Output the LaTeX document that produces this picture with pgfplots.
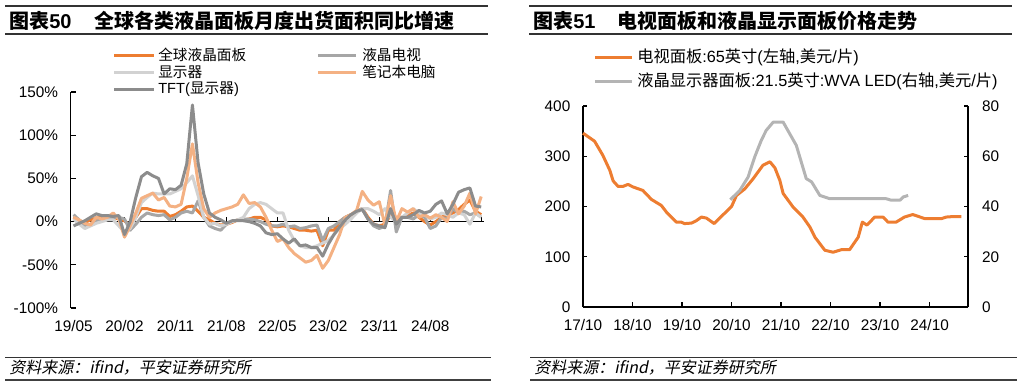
\documentclass[border=0pt]{standalone}
\usepackage{fontspec}
\usepackage{pgfplots}
\pgfplotsset{compat=1.18}
\usepackage{pgfplotstable}
\setmainfont{Liberation Sans}
\newfontfamily\cjk{Noto Sans CJK SC}
\newfontfamily\cjkit[FakeSlant=0.2]{Noto Sans CJK SC}
\definecolor{cA}{HTML}{ED7D31}
\definecolor{cB}{HTML}{A6A6A6}
\definecolor{cC}{HTML}{D2D2D2}
\definecolor{cD}{HTML}{F4B183}
\definecolor{cE}{HTML}{8C8C8C}
\definecolor{cG}{HTML}{B4B4B4}
\definecolor{rule}{HTML}{333333}

\pgfplotstableread{
i a b c d e
0 5 8 3 5 -5
1 1 2 -3 2 -2
2 -1 -5 -8 -2 1
3 2 -3 -5 -4 5
4 4 0 -2 5 9
5 5 3 0 3 7
6 4 5 2 5 7
7 5 5 2 10 6
8 3 5 -5 3 7
9 1 3 -12 -18 -15
10 -5 -10 -8 -5 0
11 5 -3 5 10 28
12 15 5 22 27 52
13 15 10 28 30 57
14 13 8 33 33 53
15 12 7 32 25 50
16 12 8 32 28 32
17 6 2 32 18 38
18 8 5 35 17 37
19 12 10 38 20 42
20 17 12 45 50 67
21 18 10 53 90 135
22 12 24 30 45 68
23 5 5 5 15 32
24 2 -5 -3 5 10
25 -2 -8 -2 10 5
26 -4 -10 -5 13 2
27 -3 -3 -3 15 -2
28 -1 0 0 17 1
29 2 2 2 20 1
30 2 3 5 31 1
31 3 3 15 21 0
32 5 2 20 22 -2
33 5 0 22 17 -5
34 2 -3 20 5 -13
35 -5 -5 15 -10 -15
36 -6 -5 10 -23 -14
37 -5 -3 10 -20 -20
38 -6 -6 -10 -30 -25
39 -8 -5 -22 -37 -20
40 -10 -8 -28 -42 -28
41 -10 -7 -30 -47 -27
42 -11 -5 -30 -45 -30
43 -10 -4 -28 -39 -30
44 -28 -22 -25 -54 -40
45 -10 -8 -22 -45 -26
46 -10 -5 -15 -30 -15
47 0 0 -8 -15 -6
48 5 5 -3 5 2
49 8 8 3 8 8
50 12 12 10 13 12
51 15 15 15 35 14
52 5 3 15 25 3
53 -3 -5 12 19 -3
54 -5 -8 8 23 -5
55 -3 -5 15 -4 -7
56 8 36 5 30 15
57 5 -12 0 0 -3
58 5 5 5 15 5
59 7 5 10 11 5
60 10 3 15 15 8
61 5 8 10 5 13
62 0 5 8 8 10
63 -4 -8 3 4 12
64 0 -5 5 8 20
65 5 5 10 5 24
66 8 3 8 0 9
67 10 15 5 23 20
68 14 10 10 9 34
69 20 12 8 18 37
70 25 8 -3 33 39
71 12 10 10 9 18
72 8 5 5 29 17
}\lcd

\begin{document}
\begin{tikzpicture}
\begin{scope}[x=0.75pt,y=-0.75pt]
\path[use as bounding box] (0,0) rectangle (1017,386);
% rules
\draw[rule, line width=0.9pt] (5,6) -- (488,6);
\draw[rule, line width=0.9pt] (5,34) -- (488,34);
\draw[rule, line width=0.9pt] (529,6) -- (1012,6);
\draw[rule, line width=0.9pt] (529,34) -- (1012,34);
\draw[rule, line width=0.9pt] (5,357.5) -- (491,357.5);
\draw[rule, line width=0.9pt] (530,357.5) -- (1017,357.5);
\draw[black!75, line width=2pt] (5,380) -- (491,380);
\draw[black!75, line width=2pt] (530,380) -- (1017,380);
% titles
\node[anchor=west, inner sep=0] at (9,21) {\fontsize{15}{18}\selectfont\bfseries{\cjk 图表}50};
\node[anchor=west, inner sep=0] at (94,21) {\fontsize{15}{18}\selectfont\cjk\bfseries 全球各类液晶面板月度出货面积同比增速};
\node[anchor=west, inner sep=0] at (533,21) {\fontsize{15}{18}\selectfont\bfseries{\cjk 图表}51};
\node[anchor=west, inner sep=0] at (617,21) {\fontsize{15}{18}\selectfont\cjk\bfseries 电视面板和液晶显示面板价格走势};
% sources
\node[anchor=west, inner sep=0] at (9,368) {\fontsize{12}{13}\selectfont\cjkit 资料来源：ifind，平安证券研究所};
\node[anchor=west, inner sep=0] at (534,368) {\fontsize{12}{13}\selectfont\cjkit 资料来源：ifind，平安证券研究所};
% left legend
\draw[cA, line width=2.25pt] (114,55) -- (154,55);
\node[anchor=west, inner sep=0] at (158,55) {\fontsize{11}{13}\selectfont\cjk 全球液晶面板};
\draw[cC, line width=2.25pt] (114,72) -- (154,72);
\node[anchor=west, inner sep=0] at (158,72) {\fontsize{11}{13}\selectfont\cjk 显示器};
\draw[cE, line width=2.25pt] (114,89) -- (154,89);
\node[anchor=west, inner sep=0] at (158,89) {\fontsize{11}{13}\selectfont TFT({\cjk 显示器})};
\draw[cB, line width=2.25pt] (318,55) -- (356,55);
\node[anchor=west, inner sep=0] at (362,55) {\fontsize{11}{13}\selectfont\cjk 液晶电视};
\draw[cD, line width=2.25pt] (318,72) -- (356,72);
\node[anchor=west, inner sep=0] at (362,72) {\fontsize{11}{13}\selectfont\cjk 笔记本电脑};
% right legend
\draw[cA, line width=2.25pt] (595,57) -- (632,57);
\node[anchor=west, inner sep=0] at (637,57) {\fontsize{12.2}{14}\selectfont{\cjk 电视面板}:65{\cjk 英寸}({\cjk 左轴},{\cjk 美元}/{\cjk 片})};
\draw[cG, line width=2.25pt] (595,81) -- (632,81);
\node[anchor=west, inner sep=0] at (637,81) {\fontsize{12.2}{14}\selectfont{\cjk 液晶显示器面板}:21.5{\cjk 英寸}:WVA LED({\cjk 右轴},{\cjk 美元}/{\cjk 片})};
\end{scope}

% ---------- left chart ----------
\begin{axis}[at={(53.025pt,-231pt)}, anchor=south west, scale only axis,
  width=310pt, height=162pt, xmin=-0.5, xmax=72.5, ymin=-100, ymax=150,
  axis line style={draw=none}, tick style={draw=none}, clip=false,
  xtick={0,9,...,63}, xticklabels={19/05,20/02,20/11,21/08,22/05,23/02,23/11,24/08},
  ytick={-100,-50,0,50,100,150}, yticklabels={-100\%,-50\%,0\%,50\%,100\%,150\%},
  ticklabel style={font=\fontsize{11.5}{13}\selectfont},
  yticklabel style={xshift=-6pt}, xticklabel style={yshift=-6pt},
  every axis plot/.append style={line width=2.25pt, line join=round, mark=none}]
\draw[line width=1pt] (axis cs:-0.5,-100) -- (axis cs:-0.5,150);
\pgfplotsinvokeforeach{-100,-50,0,50,100,150}{\draw[line width=1pt] (axis cs:-0.5,#1) -- (axis cs:0.4,#1);}
\draw[line width=1pt] (axis cs:-0.5,0) -- (axis cs:72.5,0);
\pgfplotsinvokeforeach{9,18,27,36,45,54,63,72}{\draw[line width=1pt] (axis cs:#1,0) -- (axis cs:#1,5);}
\addplot[cA] table[x=i,y=a]{\lcd};
\addplot[cB] table[x=i,y=b]{\lcd};
\addplot[cC] table[x=i,y=c]{\lcd};
\addplot[cD] table[x=i,y=d]{\lcd};
\addplot[cE] table[x=i,y=e]{\lcd};
\end{axis}

% ---------- right chart ----------
\begin{axis}[at={(437.25pt,-230.25pt)}, anchor=south west, scale only axis,
  width=288.75pt, height=150.75pt, xmin=0, xmax=93.3, ymin=0, ymax=400,
  axis line style={draw=none}, tick style={draw=none}, clip=false,
  xtick={0,12,...,84}, xticklabels={17/10,18/10,19/10,20/10,21/10,22/10,23/10,24/10},
  ytick={0,100,200,300,400}, yticklabels={0,100,200,300,400},
  ticklabel style={font=\fontsize{11.5}{13}\selectfont},
  yticklabel style={xshift=-6pt}, xticklabel style={yshift=-6pt},
  every axis plot/.append style={line width=2.25pt, line join=round, mark=none}]
\draw[line width=1pt] (axis cs:0,0) -- (axis cs:0,400);
\draw[line width=1pt] (axis cs:0,0) -- (axis cs:93.3,0);
\draw[line width=1pt] (axis cs:93.3,0) -- (axis cs:93.3,400);
\pgfplotsinvokeforeach{0,100,200,300,400}{\draw[line width=1pt] (axis cs:0,#1) -- (axis cs:1,#1);
  \draw[line width=1pt] (axis cs:93.3,#1) -- (axis cs:92.3,#1);}
\pgfplotsinvokeforeach{12,24,36,48,60,72,84}{\draw[line width=1pt] (axis cs:#1,0) -- (axis cs:#1,10);}
\addplot[cA] coordinates {
(0,346) (2.8,330) (4.8,302) (6.5,272) (7.3,251) (8.5,240) (9.7,240) (10.9,244)
(12.1,239) (14.5,232) (16.6,214) (19,202) (20.2,189) (22.6,169) (23.8,169) (24.6,166)
(26.3,167) (27.5,172) (28.7,179) (29.9,177) (31.8,166) (34,184) (36,200) (37.2,222)
(39.2,235) (41.2,255) (43.6,282) (45.3,289) (46.5,277) (47.7,252) (48.5,226) (50.9,199)
(53.3,179) (55,159) (56.2,139) (58.6,113) (60.6,109) (62.6,114) (64.6,114) (66.7,139)
(67.7,169) (68.8,163) (70.7,179) (72.7,179) (73.9,169) (75.9,169) (77.9,179) (79.9,184)
(82.8,176) (86.9,176) (88,179) (89.7,180) (91.7,180)};
\end{axis}
\begin{axis}[at={(437.25pt,-230.25pt)}, anchor=south west, scale only axis,
  width=288.75pt, height=150.75pt, xmin=0, xmax=93.3, ymin=0, ymax=80,
  axis line style={draw=none}, tick style={draw=none}, clip=false,
  xtick=\empty, ytick={0,20,40,60,80}, yticklabels={0,20,40,60,80},
  yticklabel pos=right,
  ticklabel style={font=\fontsize{11.5}{13}\selectfont},
  yticklabel style={xshift=7pt},
  every axis plot/.append style={line width=2.25pt, line join=round, mark=none}]
\addplot[cG] coordinates {
(35.7,42.7) (38,46.4) (40,51.7) (41.6,59.7) (43.2,66.3) (44.4,70.3) (46.1,73.6) (48.5,73.6)
(51.7,64.3) (54.1,51.1) (55.4,49.8) (57.4,44.4) (59.8,43.1) (63,43.1) (73.5,43.1)
(74.7,42.5) (76.8,42.5) (77.6,43.8) (78.8,44.4)};
\end{axis}
\end{tikzpicture}
\end{document}
